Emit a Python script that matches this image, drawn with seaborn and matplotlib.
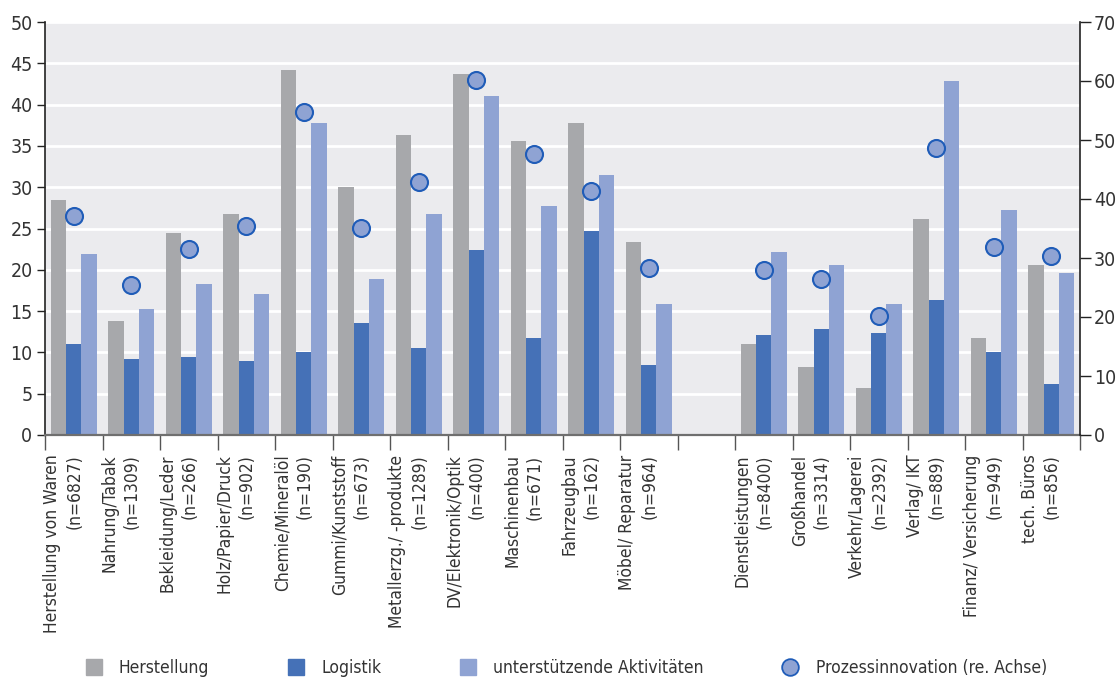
import numpy as np
import pandas as pd
import matplotlib
matplotlib.use('Agg')
import matplotlib.pyplot as plt
import seaborn as sns
from matplotlib.lines import Line2D

# Branchen (links: Verarbeitendes Gewerbe, rechts: Dienstleistungen)
branchen_industrie = [
    'Herstellung von Waren\n(n=6827)', 'Nahrung/Tabak\n(n=1309)',
    'Bekleidung/Leder\n(n=266)', 'Holz/Papier/Druck\n(n=902)',
    'Chemie/Mineralöl\n(n=190)', 'Gummi/Kunststoff\n(n=673)',
    'Metallerzg./ -produkte\n(n=1289)', 'DV/Elektronik/Optik\n(n=400)',
    'Maschinenbau\n(n=671)', 'Fahrzeugbau\n(n=162)', 'Möbel/ Reparatur\n(n=964)',
]
branchen_dienst = [
    'Dienstleistungen\n(n=8400)', 'Großhandel\n(n=3314)', 'Verkehr/Lagerei\n(n=2392)',
    'Verlag/ IKT\n(n=889)', 'Finanz/ Versicherung\n(n=949)', 'tech. Büros\n(n=856)',
]
branchen = branchen_industrie + branchen_dienst

herstellung = [28.5, 13.8, 24.4, 26.7, 44.2, 30.0, 36.3, 43.7, 35.6, 37.8, 23.4,
               11.0, 8.2, 5.7, 26.2, 11.8, 20.6]
logistik = [11.0, 9.2, 9.5, 9.0, 10.0, 13.5, 10.5, 22.4, 11.8, 24.7, 8.5,
            12.1, 12.8, 12.3, 16.3, 10.0, 6.2]
unterstuetzend = [21.9, 15.3, 18.3, 17.1, 37.8, 18.9, 26.7, 41.1, 27.7, 31.5, 15.8,
                  22.1, 20.6, 15.8, 42.9, 27.2, 19.6]
prozessinnovation = [37.1, 25.5, 31.5, 35.4, 54.7, 35.1, 42.9, 60.2, 47.7, 41.4, 28.3,
                     27.9, 26.5, 20.2, 48.7, 31.9, 30.3]

reihen = ['Herstellung', 'Logistik', 'unterstützende Aktivitäten']
farben = ['#a7a8ab', '#4571b7', '#8fa3d3']
kreis_face = '#8fa3d3'
kreis_rand = '#1f5cb8'

# Leerer Platz zwischen den beiden Blöcken
luecke = ' '
reihenfolge = branchen_industrie + [luecke] + branchen_dienst

df = pd.DataFrame({
    'Branche': branchen * 3,
    'Reihe': np.repeat(reihen, len(branchen)),
    'Wert': herstellung + logistik + unterstuetzend,
})

sns.set_style('darkgrid', {'axes.facecolor': '#ebebee', 'grid.color': 'white'})
plt.rcParams['font.family'] = ['DejaVu Sans']
plt.rcParams['font.stretch'] = 'condensed'
textfarbe = '#333333'

fig = plt.figure(figsize=(11.16, 6.8), dpi=100)
ax = fig.add_axes([45 / 1116, 1 - 435 / 680, (1080 - 45) / 1116, (435 - 22) / 680])

sns.barplot(data=df, x='Branche', y='Wert', hue='Reihe', order=reihenfolge,
            hue_order=reihen, palette=farben, saturation=1, width=0.8,
            legend=False, ax=ax, linewidth=0, zorder=2)

n = len(reihenfolge)
ax.set_xlim(-0.5, n - 0.5)
ax.set_ylim(0, 50)
ax.set_yticks(np.arange(0, 51, 5))
ax.set_xlabel('')
ax.set_ylabel('')
ax.grid(axis='x', visible=False)
ax.grid(axis='y', color='white', linewidth=2)
ax.set_axisbelow(True)

# Beschriftungen der Kategorien (leicht nach rechts versetzt wie im Original)
ax.set_xticks(np.arange(n) + 0.17)
ax.set_xticklabels(['' if b == luecke else b for b in reihenfolge],
                   rotation=90, ha='right', va='top', multialignment='right',
                   fontsize=12.5, color=textfarbe, linespacing=1.3)
ax.tick_params(axis='x', which='major', length=0, pad=14)
ax.set_xticks(np.arange(-0.5, n), minor=True)
ax.tick_params(axis='x', which='minor', length=11, width=1, color='#555555', bottom=True)
ax.tick_params(axis='y', length=6, width=1, color='#222222', labelsize=14,
               labelcolor=textfarbe, pad=3, left=True)

for s in ['top', 'right']:
    ax.spines[s].set_visible(False)
ax.spines['left'].set_visible(True)
ax.spines['left'].set_color('#222222')
ax.spines['left'].set_linewidth(1.2)
ax.spines['bottom'].set_visible(True)
ax.spines['bottom'].set_color('#6f6f6f')
ax.spines['bottom'].set_linewidth(1.6)

# Rechte Achse: Prozessinnovation
ax2 = ax.twinx()
pos = [reihenfolge.index(b) for b in branchen]
sns.scatterplot(x=pos, y=prozessinnovation, ax=ax2, s=150, color=kreis_face,
                edgecolor=kreis_rand, linewidth=1.5, zorder=5, legend=False)
ax2.set_ylim(0, 70)
ax2.set_yticks(np.arange(0, 71, 10))
ax2.grid(False)
ax2.patch.set_visible(False)
ax2.tick_params(axis='y', length=8, width=1, color='#222222', labelsize=14,
                labelcolor=textfarbe, pad=2, right=True)
for s in ['top', 'left', 'bottom']:
    ax2.spines[s].set_visible(False)
ax2.spines['right'].set_visible(True)
ax2.spines['right'].set_color('#222222')
ax2.spines['right'].set_linewidth(1.2)
ax2.set_xlim(-0.5, n - 0.5)

# Legende unten
handles = [Line2D([], [], marker='s', linestyle='none', markersize=12,
                  markerfacecolor=f, markeredgecolor=f) for f in farben]
handles.append(Line2D([], [], marker='o', linestyle='none', markersize=12,
                      markerfacecolor=kreis_face, markeredgecolor=kreis_rand,
                      markeredgewidth=1.3))
labels = reihen + ['Prozessinnovation (re. Achse)']
fig.legend(handles, labels, loc='center left', bbox_to_anchor=(84 / 1116, 1 - 668 / 680),
           ncol=4, frameon=False, fontsize=12.5, handlelength=1.1, handletextpad=0.9,
           columnspacing=4.45, borderpad=0, borderaxespad=0, labelcolor=textfarbe)

fig.savefig('out.png', dpi=100, facecolor='white')
